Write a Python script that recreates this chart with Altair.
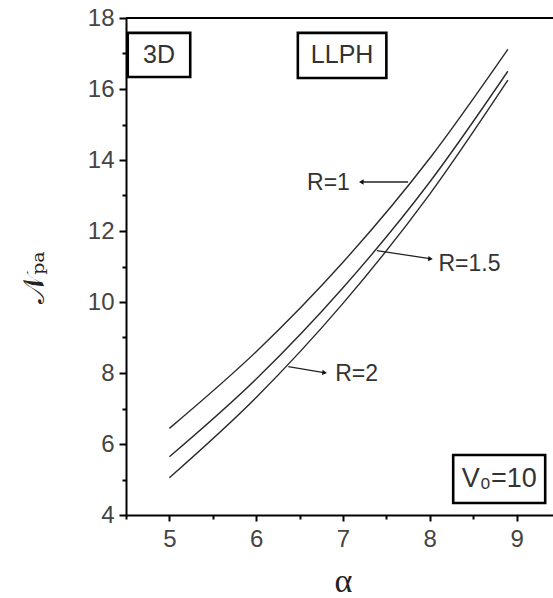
import altair as alt
import pandas as pd

# curve data
alpha = [5.0, 6.0, 7.0, 8.0, 8.9]
n_r1 = [6.44, 8.60, 11.12, 14.05, 17.12]
n_r15 = [5.64, 7.83, 10.40, 13.38, 16.50]
n_r2 = [5.05, 7.31, 9.96, 13.04, 16.25]

x_major = [5, 6, 7, 8, 9]
x_minor = [4.5, 5.5, 6.5, 7.5, 8.5]
y_major = [4, 6, 8, 10, 12, 14, 16, 18]
y_minor = [5, 7, 9, 11, 13, 15, 17]

# annotation labels
lab_text = ["R=1", "R=1.5", "R=2"]
lab_x = [7.08, 8.10, 6.91]
lab_y = [13.36, 11.07, 7.97]
lab_align = ["right", "left", "left"]
arr_x0 = [7.75, 7.39, 6.37]
arr_y0 = [13.38, 11.45, 8.18]
arr_x1 = [7.22, 8.00, 6.78]
arr_y1 = [13.38, 11.22, 8.01]
arr_angle = [270, 97, 97]

# boxed labels
box_text = ["3D", "LLPH", "V\u2080=10"]
box_x0 = [4.52, 6.48, 8.27]
box_x1 = [5.24, 7.50, 9.33]
box_y0 = [17.58, 17.58, 5.69]
box_y1 = [16.34, 16.31, 4.34]
box_size = [25, 25, 27]

rows = []
for name, vals in [("1", n_r1), ("1.5", n_r15), ("2", n_r2)]:
    for a, v in zip(alpha, vals):
        rows.append({"alpha": a, "N": v, "R": name})
curves = pd.DataFrame(rows)

xs = alt.Scale(domain=[4.5, 9.42], nice=False, zero=False)
ys = alt.Scale(domain=[4, 18], nice=False, zero=False)

FONT = "Liberation Sans"
TXT = "#333333"

main = alt.Chart(curves).mark_line(color="#2a2a2a", strokeWidth=1.4, interpolate="monotone").encode(
    x=alt.X("alpha:Q", scale=xs, axis=alt.Axis(
        values=x_major, orient="bottom", title="\u03b1", titleFont="Liberation Serif",
        titleFontSize=34, titleFontWeight="normal", titleColor="#222",
        titleX=217, titleY=76, titleBaseline="alphabetic",
        tickSize=6, tickWidth=2, labelFontSize=24, labelFont=FONT, labelColor="#444",
        labelPadding=6, domainWidth=2, domainColor="black", tickColor="black", grid=False)),
    y=alt.Y("N:Q", scale=ys, axis=alt.Axis(
        values=y_major, orient="left", title="\U0001D4A9\u209a\u2090", titleFont="DejaVu Serif",
        titleFontSize=30, titleFontWeight="normal", titleColor="#222",
        titleX=-92, titleY=259, titleAngle=-90, titleAlign="center", titleBaseline="middle",
        tickSize=7, tickWidth=2, labelFontSize=24, labelFont=FONT, labelColor="#444",
        labelPadding=5, domainWidth=2, domainColor="black", tickColor="black", grid=False)),
    detail="R:N",
)

minor = alt.Chart(curves).mark_line(strokeOpacity=0).encode(
    x=alt.X("alpha:Q", scale=xs, axis=alt.Axis(
        values=x_minor, orient="bottom", title=None, labels=False, domain=False,
        tickSize=4, tickWidth=2, tickColor="black", grid=False)),
    y=alt.Y("N:Q", scale=ys, axis=alt.Axis(
        values=y_minor, orient="left", title=None, labels=False, domain=False,
        tickSize=4, tickWidth=2, tickColor="black", grid=False)),
    detail="R:N",
)

topline = alt.Chart(pd.DataFrame({"y": [y_major[-1]]})).mark_rule(color="black", strokeWidth=2).encode(
    y=alt.Y("y:Q", scale=ys, axis=None)
)

labels = pd.DataFrame({"t": lab_text, "x": lab_x, "y": lab_y, "al": lab_align,
                       "x0": arr_x0, "y0": arr_y0, "x1": arr_x1, "y1": arr_y1, "ang": arr_angle})

lab_r = alt.Chart(labels[labels.al == "right"]).mark_text(
    align="right", baseline="middle", font=FONT, fontSize=23, color=TXT).encode(
    x=alt.X("x:Q", scale=xs, axis=None), y=alt.Y("y:Q", scale=ys, axis=None), text="t:N")
lab_l = alt.Chart(labels[labels.al == "left"]).mark_text(
    align="left", baseline="middle", font=FONT, fontSize=23, color=TXT).encode(
    x=alt.X("x:Q", scale=xs, axis=None), y=alt.Y("y:Q", scale=ys, axis=None), text="t:N")

arrows = alt.Chart(labels).mark_rule(color="#222", strokeWidth=1.3).encode(
    x=alt.X("x0:Q", scale=xs, axis=None), y=alt.Y("y0:Q", scale=ys, axis=None),
    x2="x1:Q", y2="y1:Q")
heads = alt.Chart(labels).mark_point(shape="triangle", filled=True, color="#111", size=28, opacity=1).encode(
    x=alt.X("x1:Q", scale=xs, axis=None), y=alt.Y("y1:Q", scale=ys, axis=None),
    angle=alt.Angle("ang:Q", scale=None))

boxes = pd.DataFrame({"t": box_text, "x0": box_x0, "x1": box_x1, "y0": box_y0, "y1": box_y1,
                      "xc": [(a + b) / 2 for a, b in zip(box_x0, box_x1)],
                      "yc": [(a + b) / 2 for a, b in zip(box_y0, box_y1)], "fs": box_size})
rects = alt.Chart(boxes).mark_rect(fill="white", stroke="black", strokeWidth=2.6).encode(
    x=alt.X("x0:Q", scale=xs, axis=None), x2="x1:Q",
    y=alt.Y("y0:Q", scale=ys, axis=None), y2="y1:Q")
btext = alt.Chart(boxes).mark_text(align="center", baseline="middle", font=FONT, color=TXT).encode(
    x=alt.X("xc:Q", scale=xs, axis=None), y=alt.Y("yc:Q", scale=ys, axis=None), text="t:N",
    size=alt.Size("fs:Q", scale=None))

chart = alt.layer(main, minor, topline, arrows, heads, lab_r, lab_l, rects, btext).resolve_axis(
    x="independent", y="independent"
).properties(
    width=427, height=497,
    autosize=alt.AutoSizeParams(type="none"),
    padding={"left": 126, "top": 18, "right": 0, "bottom": 83},
    background="white",
).configure_view(stroke=None)

chart.save("out.html", embed_options={"renderer": "svg", "actions": False})
